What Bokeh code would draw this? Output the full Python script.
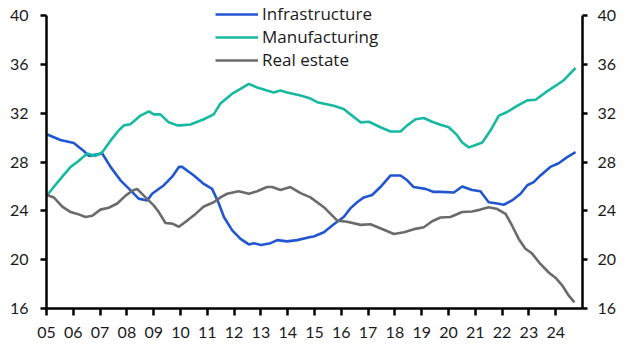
from bokeh.plotting import figure
from bokeh.models import LinearAxis, Range1d, FixedTicker, Legend, LegendItem
from bokeh.embed import file_html
from bokeh.resources import INLINE

# ---- data ----
infra_t = [2005.03, 2005.52, 2006.02, 2006.39, 2006.58, 2007.08, 2007.39, 2007.76, 2008.13, 2008.44,
           2008.76, 2008.94, 2009.38, 2009.69, 2009.94, 2010.06, 2010.5, 2010.87, 2011.18, 2011.43,
           2011.62, 2011.93, 2012.24, 2012.55, 2012.74, 2013.0, 2013.36, 2013.61, 2013.98, 2014.35,
           2014.85, 2014.97, 2015.35, 2015.72, 2016.09, 2016.34, 2016.59, 2016.84, 2017.15, 2017.46,
           2017.84, 2018.21, 2018.46, 2018.7, 2019.14, 2019.45, 2019.7, 2020.2, 2020.51, 2020.88,
           2021.19, 2021.5, 2021.82, 2022.06, 2022.37, 2022.69, 2022.94, 2023.18, 2023.43, 2023.8,
           2024.11, 2024.43, 2024.74]
infra_v = [30.25, 29.8, 29.55, 28.9, 28.5, 28.7, 27.6, 26.5, 25.7, 25.0,
           24.85, 25.4, 26.1, 26.8, 27.6, 27.6, 26.9, 26.2, 25.8, 24.6,
           23.5, 22.4, 21.7, 21.25, 21.35, 21.2, 21.35, 21.6, 21.5, 21.6,
           21.85, 21.9, 22.25, 22.9, 23.5, 24.2, 24.7, 25.1, 25.3, 25.95,
           26.9, 26.9, 26.5, 25.95, 25.8, 25.55, 25.55, 25.5, 26.0, 25.7,
           25.6, 24.7, 24.6, 24.5, 24.85, 25.4, 26.1, 26.35, 26.9, 27.6,
           27.9, 28.4, 28.8]

manu_t = [2005.03, 2005.27, 2005.59, 2005.9, 2006.15, 2006.52, 2006.83, 2007.08, 2007.39, 2007.7,
          2007.89, 2008.13, 2008.51, 2008.82, 2009.0, 2009.25, 2009.56, 2009.88, 2010.0, 2010.37,
          2010.87, 2011.24, 2011.49, 2011.93, 2012.24, 2012.55, 2012.86, 2013.23, 2013.48, 2013.73,
          2013.98, 2014.48, 2014.85, 2015.1, 2015.72, 2016.09, 2016.4, 2016.72, 2017.03, 2017.46,
          2017.84, 2018.21, 2018.46, 2018.77, 2019.08, 2019.39, 2019.7, 2020.01, 2020.32, 2020.51,
          2020.76, 2021.01, 2021.26, 2021.57, 2021.88, 2022.19, 2022.56, 2022.94, 2023.25, 2023.62,
          2024.0, 2024.3, 2024.74]
manu_v = [25.3, 25.95, 26.8, 27.6, 28.0, 28.7, 28.5, 28.8, 29.75, 30.6,
          31.0, 31.1, 31.8, 32.15, 31.9, 31.9, 31.25, 31.0, 31.0, 31.07,
          31.5, 31.9, 32.8, 33.6, 34.0, 34.4, 34.1, 33.85, 33.7, 33.85,
          33.7, 33.45, 33.2, 32.9, 32.6, 32.35, 31.8, 31.25, 31.3, 30.85,
          30.5, 30.5, 31.0, 31.5, 31.6, 31.3, 31.05, 30.85, 30.2, 29.6,
          29.2, 29.4, 29.6, 30.6, 31.8, 32.1, 32.6, 33.05, 33.1, 33.7,
          34.25, 34.7, 35.7]

real_t = [2005.03, 2005.27, 2005.59, 2005.9, 2006.15, 2006.46, 2006.71, 2007.01, 2007.32, 2007.64,
          2007.95, 2008.2, 2008.38, 2008.63, 2009.0, 2009.19, 2009.44, 2009.69, 2009.94, 2010.25,
          2010.56, 2010.87, 2011.24, 2011.49, 2011.74, 2012.17, 2012.55, 2012.86, 2013.23, 2013.42,
          2013.73, 2014.1, 2014.48, 2014.85, 2015.35, 2015.85, 2016.22, 2016.72, 2017.09, 2017.59,
          2017.96, 2018.34, 2018.71, 2019.08, 2019.39, 2019.7, 2020.07, 2020.51, 2020.88, 2021.19,
          2021.5, 2021.82, 2022.13, 2022.37, 2022.62, 2022.87, 2023.12, 2023.43, 2023.74, 2024.0,
          2024.24, 2024.49, 2024.7]
real_v = [25.3, 25.1, 24.35, 23.9, 23.75, 23.5, 23.6, 24.1, 24.25, 24.6,
          25.25, 25.65, 25.8, 25.25, 24.45, 23.9, 23.0, 22.95, 22.7, 23.2,
          23.75, 24.35, 24.7, 25.1, 25.4, 25.6, 25.4, 25.6, 25.95, 25.95,
          25.7, 25.95, 25.45, 25.1, 24.3, 23.2, 23.1, 22.85, 22.9, 22.45,
          22.1, 22.25, 22.5, 22.65, 23.15, 23.45, 23.5, 23.9, 23.95, 24.1,
          24.3, 24.15, 23.75, 22.8, 21.7, 20.9, 20.5, 19.65, 18.95, 18.5,
          17.9, 17.05, 16.5]

x_ticks = list(range(2005, 2025))
x_labels = ["05", "06", "07", "08", "09", "10", "11", "12", "13", "14",
            "15", "16", "17", "18", "19", "20", "21", "22", "23", "24"]
y_ticks = [16, 20, 24, 28, 32, 36, 40]

names = ["Infrastructure", "Manufacturing", "Real estate"]
colors = ["#2255d0", "#17b9a0", "#6b6b6b"]

FONT = "Lato"
LFONT = "Open Sans"

# frame spans the full height above the x axis; the axes stop at 40 via bounds
p = figure(width=630, height=355, output_backend="svg", toolbar_location=None,
           x_range=Range1d(2005, 2025), y_range=Range1d(16, 41.23),
           min_border_left=46, min_border_right=48, min_border_top=0, min_border_bottom=47)
p.outline_line_color = None
p.xgrid.visible = False
p.ygrid.visible = False
p.background_fill_color = "white"
p.border_fill_color = "white"

r1 = p.line(infra_t, infra_v, line_color=colors[0], line_width=2.6)
r2 = p.line(manu_t, manu_v, line_color=colors[1], line_width=2.6)
r3 = p.line(real_t, real_v, line_color=colors[2], line_width=2.6)


def style_axis(ax, out, standoff):
    ax.axis_line_color = "black"
    ax.axis_line_width = 2.5
    ax.major_tick_line_color = "black"
    ax.major_tick_line_width = 2.5
    ax.minor_tick_line_color = None
    ax.major_tick_in = 0
    ax.major_tick_out = out
    ax.major_label_standoff = standoff
    ax.major_label_text_font = FONT
    ax.major_label_text_font_size = "16px"
    ax.major_label_text_color = "#1a1a1a"


xa = p.xaxis[0]
xa.ticker = FixedTicker(ticks=x_ticks)
xa.major_label_overrides = {t: l for t, l in zip(x_ticks, x_labels)}
style_axis(xa, 7, 11)

ya = p.yaxis[0]
ya.ticker = FixedTicker(ticks=y_ticks)
ya.bounds = (16, 40)
style_axis(ya, 6, 12)

ra = LinearAxis(ticker=FixedTicker(ticks=y_ticks), bounds=(16, 40))
style_axis(ra, 5, 10)
p.add_layout(ra, "right")

legend = Legend(items=[LegendItem(label=names[0], renderers=[r1]),
                       LegendItem(label=names[1], renderers=[r2]),
                       LegendItem(label=names[2], renderers=[r3])],
                location=(169, 237), orientation="vertical")
legend.glyph_width = 43
legend.glyph_height = 20
legend.label_height = 20
legend.spacing = 0
legend.padding = 0
legend.margin = 0
legend.label_standoff = 4
legend.label_text_font = LFONT
legend.label_text_font_size = "17px"
legend.label_text_color = "#1a1a1a"
legend.border_line_alpha = 0
legend.background_fill_alpha = 0
p.add_layout(legend, "center")

open("out.html", "w").write(file_html(p, INLINE))
